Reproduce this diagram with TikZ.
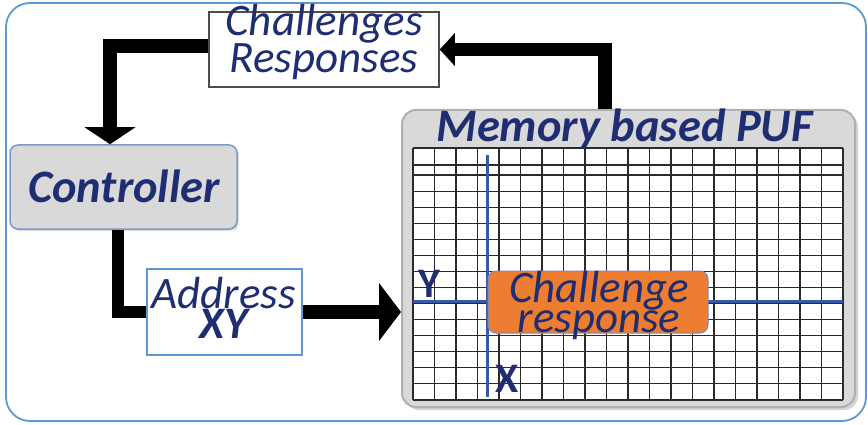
\documentclass[tikz,border=0pt]{standalone}
\usepackage{fontspec}
\setmainfont{Carlito}
\usetikzlibrary{arrows.meta,shadows}
\definecolor{navy}{HTML}{1F2E72}
\definecolor{frameblue}{HTML}{5B9BD5}
\definecolor{axisblue}{HTML}{3559A6}
\definecolor{boxgray}{HTML}{D9D9D9}
\definecolor{pufedge}{HTML}{B0B0B0}
\definecolor{ctrledge}{HTML}{7E9AC4}
\definecolor{orangefill}{HTML}{ED7D31}
\definecolor{gridline}{HTML}{2A2A2A}
\begin{document}
\begin{tikzpicture}[x=1pt,y=-1pt,
  txt/.style={text=navy,inner sep=0,align=center,
    font=\fontsize{45}{30}\selectfont\itshape},
  txtb/.style={txt,font=\fontsize{46.5}{30}\selectfont\bfseries\itshape},
  box/.style={inner sep=0,line width=1.5pt},
  conn/.style={line width=13.5pt,line join=miter,black},
  gridrule/.style={gridline,line width=1.1pt},
  axis/.style={axisblue,line width=3pt},
]
\useasboundingbox (0,0) rectangle (868,425);
% outer frame
\draw[frameblue,line width=1.8pt,rounded corners=24pt] (6,3) rectangle (866,421);

% boxes
\node[box,draw=black!70,fill=white,minimum width=230pt,minimum height=75pt] (chal) at (324,49.5) {};
\node[box,draw=ctrledge,fill=boxgray,rounded corners=8pt,minimum width=227pt,minimum height=84pt,
      drop shadow={shadow xshift=2pt,shadow yshift=-2pt,opacity=0.25}] (ctrl) at (123.5,187) {};
\node[box,draw=frameblue,fill=white,minimum width=155pt,minimum height=86pt] (addr) at (224.5,312) {};
\node[box,draw=pufedge,line width=2pt,fill=boxgray,rounded corners=14pt,minimum width=453pt,minimum height=297pt,
      drop shadow={shadow xshift=3pt,shadow yshift=-3pt,opacity=0.35}] (puf) at (628.5,258.5) {};

% memory array
\fill[white] (413,148) rectangle (843,400);
\foreach \i in {0,...,20}
  \draw[gridrule] ({413+21.5*\i},148) -- ({413+21.5*\i},400);
\foreach \yy in {148,165}
  \draw[gridrule] (413,\yy) -- (843,\yy);
\foreach \k in {0,...,14}
  \draw[gridrule] (413,{175+16.07*\k}) -- (843,{175+16.07*\k});
\draw[axis] (487,155) -- (487,397);
\draw[axis] (413,301) -- (843,301);
\node[box,line width=1pt,draw=axisblue!70,fill=orangefill,rounded corners=8pt,minimum width=220pt,minimum height=62pt] (cr) at (598,302) {};

% texts (anchored on the baseline of the last line)
\node[txt,anchor=base] (chaltxt) at (324,73) {Challenges\\Responses};
\node[txtb,anchor=base] (ctrltxt) at (124,203) {Controller};
\node[txt,anchor=base] (addrtxt) at (223.5,338) {Address\\\textbf{XY}};
\node[txtb,anchor=base] (puftxt) at (624.5,142) {Memory based PUF};
\node[txt,anchor=base] (crtxt) at (599,332) {Challenge\\response};
\node[txtb,font=\fontsize{42}{30}\selectfont\bfseries,anchor=base] (ylbl) at (429,297) {Y};
\node[txtb,font=\fontsize{42}{30}\selectfont\bfseries,anchor=base] (xlbl) at (507,392) {X};

% connectors
\draw[conn,-{Triangle[width=50pt,length=17pt]}] ([yshift=3.5pt]chal.west) -| ([xshift=-13.5pt]ctrl.north);
\draw[conn,line width=12.5pt] ([xshift=-5.5pt]ctrl.south) |- (addr.west);
\draw[conn,-{Triangle[width=57pt,length=22pt]}] (addr.east) -- (addr.east -| puf.west);
\draw[conn,-{Triangle[width=32pt,length=15pt]}] ([xshift=-23.5pt]puf.north) |- (chal.east);
\end{tikzpicture}
\end{document}
